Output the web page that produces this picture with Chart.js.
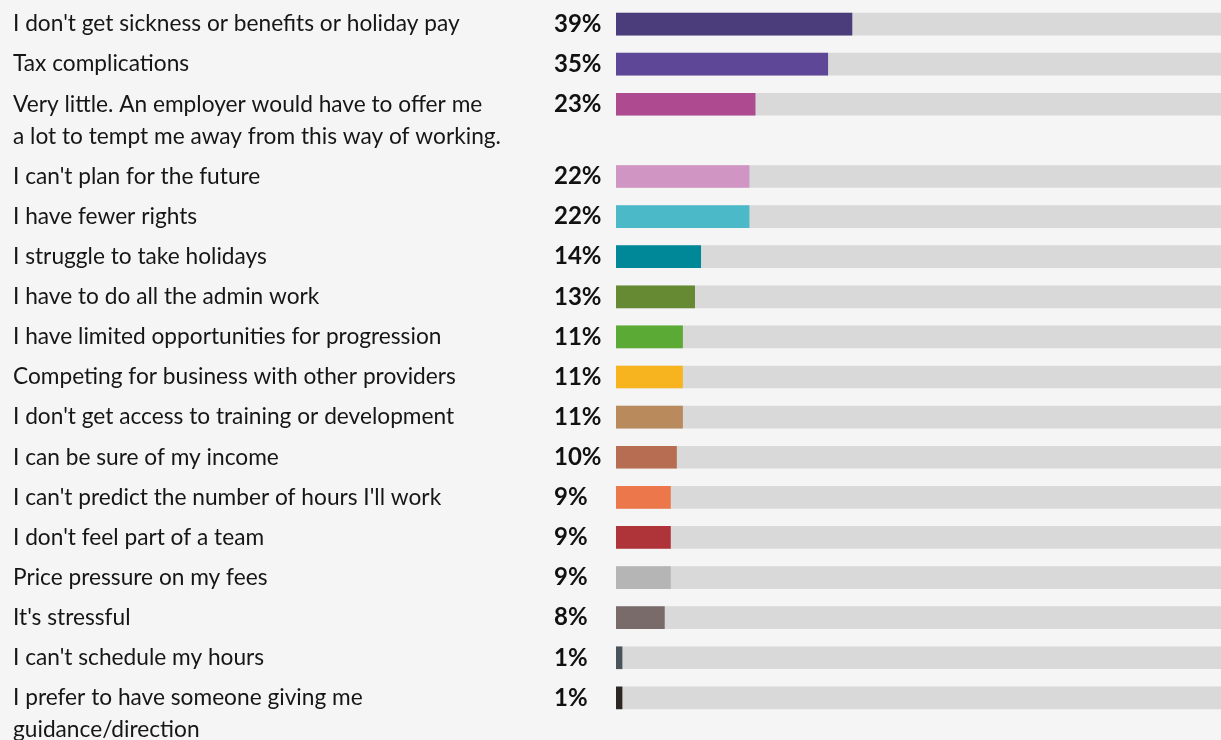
<!DOCTYPE html>
<html>
<head>
<meta charset="utf-8">
<script src="https://cdn.jsdelivr.net/npm/chart.js@4.4.0/dist/chart.umd.min.js"></script>
<style>
  html, body { margin: 0; padding: 0; background: #f5f5f5; }
  canvas { display: block; }
</style>
</head>
<body>
<canvas id="chart" width="1221" height="740"></canvas>
<script>
// answers, each one an array of label lines
var labels = [
    ["I don't get sickness or benefits or holiday pay"],
    ["Tax complications"],
    ["Very little. An employer would have to offer me", "a lot to tempt me away from this way of working."],
    ["I can't plan for the future"],
    ["I have fewer rights"],
    ["I struggle to take holidays"],
    ["I have to do all the admin work"],
    ["I have limited opportunities for progression"],
    ["Competing for business with other providers"],
    ["I don't get access to training or development"],
    ["I can be sure of my income"],
    ["I can't predict the number of hours I'll work"],
    ["I don't feel part of a team"],
    ["Price pressure on my fees"],
    ["It's stressful"],
    ["I can't schedule my hours"],
    ["I prefer to have someone giving me", "guidance/direction"]
];
var values = [39, 35, 23, 22, 22, 14, 13, 11, 11, 11, 10, 9, 9, 9, 8, 1, 1];
var colors = ['#4b3c7c', '#5e4796', '#ae4a8f', '#d095c2', '#4bb9c7', '#008898', '#668a34',
              '#5aaa35', '#f8b41f', '#b88a5c', '#b66d52', '#ec774b', '#ae3439', '#b5b5b5',
              '#796b6a', '#48545a', '#2e2623'];
var trackValue = 100;

// rows with a second label line push the next rows down a bit
var extraLine = 0.8;
var rowPos = [];
var pos = 0;
for (let i = 0; i < labels.length; i++) {
    rowPos.push(pos);
    pos += 1 + (labels[i].length - 1) * extraLine;
}

var barData = values.map((v, i) => ({x: v, y: rowPos[i]}));
var trackData = values.map((v, i) => ({x: trackValue, y: rowPos[i]}));

var textPlugin = {
    id: 'rowText',
    afterDatasetsDraw: function (chart) {
        var ctx = chart.ctx;
        var yScale = chart.scales.y;
        var lineH = yScale.getPixelForValue(extraLine) - yScale.getPixelForValue(0);
        ctx.save();
        ctx.textBaseline = 'middle';
        ctx.textAlign = 'left';
        for (let i = 0; i < labels.length; i++) {
            var py = yScale.getPixelForValue(rowPos[i]);
            ctx.fillStyle = '#161616';
            ctx.font = '22.7px Lato';
            labels[i].forEach((line, j) => {
                ctx.fillText(line, 13, py + j * lineH);
            });
            ctx.fillStyle = '#111';
            ctx.font = 'bold 24px Lato';
            ctx.fillText(values[i] + '%', 554, py);
        }
        ctx.restore();
    }
};

new Chart(document.getElementById('chart'), {
    type: 'bar',
    data: {
        datasets: [{
            data: barData,
            backgroundColor: colors,
            grouped: false,
            barThickness: 22
        }, {
            data: trackData,
            backgroundColor: '#d9d9d9',
            grouped: false,
            barThickness: 22
        }]
    },
    options: {
        indexAxis: 'y',
        responsive: false,
        animation: false,
        layout: { padding: { left: 616, right: 0, top: 0, bottom: 0 } },
        scales: {
            x: { type: 'linear', min: 0, max: 100, display: false, offset: false },
            y: { type: 'linear', reverse: true, min: -0.6, max: 17.85, display: false, offset: false }
        },
        plugins: {
            legend: { display: false },
            tooltip: { enabled: false }
        }
    },
    plugins: [textPlugin]
});
</script>
</body>
</html>
